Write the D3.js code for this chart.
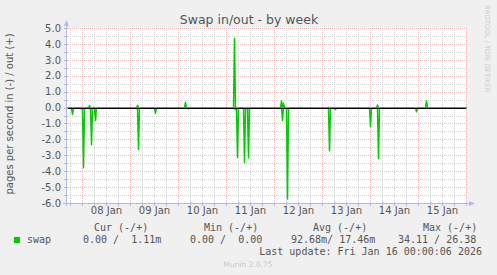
<!DOCTYPE html>
<html>
<head>
<meta charset="utf-8">
<title>Swap in/out - by week</title>
<script src="https://d3js.org/d3.v7.min.js"></script>
<style>
  body { margin: 0; background: #f0f0f0; }
  svg { display: block; }
</style>
</head>
<body>
<div id="grafico"></div>
<script>
// Values, 30-minute samples; every other sample sits on 0
const swapInTimes = ["2026-01-07 19:00", "2026-01-07 23:30", "2026-01-08 00:30", "2026-01-08 04:30",
  "2026-01-08 06:30", "2026-01-09 04:00", "2026-01-09 12:30", "2026-01-10 05:00",
  "2026-01-11 04:30", "2026-01-11 05:30", "2026-01-11 09:00", "2026-01-11 11:00",
  "2026-01-12 04:00", "2026-01-12 06:30", "2026-01-13 03:30", "2026-01-13 06:30",
  "2026-01-14 00:00", "2026-01-14 04:00", "2026-01-14 23:00"];
const swapInValues = [-0.40, -0.06, -3.75, -2.30,
  -0.78, -2.60, -0.33, -0.05,
  -0.10, -3.10, -3.44, -3.12,
  -0.78, -5.72, -2.68, -0.10,
  -1.17, -3.17, -0.23];

const swapOutTimes = ["2026-01-08 03:30", "2026-01-09 03:30", "2026-01-10 03:30", "2026-01-11 04:00",
  "2026-01-12 03:30", "2026-01-12 04:30", "2026-01-12 13:00", "2026-01-13 03:00",
  "2026-01-14 03:30", "2026-01-15 04:00"];
const swapOutValues = [0.15, 0.17, 0.36, 4.38,
  0.44, 0.30, 0.05, 0.05,
  0.19, 0.44];

const yTicks = [5, 4, 3, 2, 1, 0, -1, -2, -3, -4, -5, -6];
const dayLabels = ["08 Jan", "09 Jan", "10 Jan", "11 Jan", "12 Jan", "13 Jan", "14 Jan", "15 Jan"];
const dayNoons = ["2026-01-08 12:00", "2026-01-09 12:00", "2026-01-10 12:00", "2026-01-11 12:00",
  "2026-01-12 12:00", "2026-01-13 12:00", "2026-01-14 12:00", "2026-01-15 12:00"];
const legendHeaders = ["Cur (-/+)", "Min (-/+)", "Avg (-/+)", "Max (-/+)"];
const legendValues = ["0.00 /  1.11m", "0.00 /  0.00", "92.68m/ 17.46m", "34.11 / 26.38"];
const seriesName = "swap";
const lastUpdate = "Last update: Fri Jan 16 00:00:06 2026";

// Layout
const W = 497, H = 275;
const plot = { left: 66, right: 466, top: 28, bottom: 203 };
const parse = d3.utcParse("%Y-%m-%d %H:%M");
const tStart = parse("2026-01-07 16:00"), tEnd = parse("2026-01-16 00:00");

const sans = "'DejaVu Sans', sans-serif";
const mono = "'DejaVu Sans Mono', monospace";
const axisCol = "#b4b8ec";
const green = "#00cc00";

const svg = d3.select("#grafico").append("svg")
  .attr("width", W).attr("height", H);

svg.append("rect").attr("width", W).attr("height", H).attr("fill", "#f0f0f0");

const x = d3.scaleUtc().domain([tStart, tEnd]).range([plot.left, plot.right]);
const y = d3.scaleLinear().domain([-6, 5]).range([plot.bottom, plot.top]);

// Canvas
svg.append("rect")
  .attr("x", plot.left).attr("y", plot.top)
  .attr("width", plot.right - plot.left).attr("height", plot.bottom - plot.top)
  .attr("fill", "#ffffff");

// Grid
const grid = svg.append("g").attr("shape-rendering", "crispEdges");
const halfSteps = d3.range(-6, 5.01, 0.5);
const minorTimes = d3.utcHour.every(6).range(tStart, d3.utcMinute.offset(tEnd, 1));
const dayTimes = d3.utcDay.range(d3.utcDay.ceil(tStart), d3.utcMinute.offset(tEnd, 1));
const minorCol = "#d4d4d4", majorCol = "#f4b8b8";

grid.selectAll(".hmin").data(halfSteps.filter(v => v % 1 !== 0)).enter().append("line")
  .attr("x1", plot.left).attr("x2", plot.right)
  .attr("y1", d => Math.round(y(d)) + 0.5).attr("y2", d => Math.round(y(d)) + 0.5)
  .attr("stroke", minorCol).attr("stroke-dasharray", "1,1");
grid.selectAll(".vmin").data(minorTimes.filter(t => t.getUTCHours() !== 0)).enter().append("line")
  .attr("x1", d => Math.round(x(d)) + 0.5).attr("x2", d => Math.round(x(d)) + 0.5)
  .attr("y1", plot.top).attr("y2", plot.bottom)
  .attr("stroke", minorCol).attr("stroke-dasharray", "1,1");
grid.selectAll(".hmaj").data(yTicks).enter().append("line")
  .attr("x1", plot.left).attr("x2", plot.right)
  .attr("y1", d => Math.round(y(d)) + 0.5).attr("y2", d => Math.round(y(d)) + 0.5)
  .attr("stroke", majorCol).attr("stroke-dasharray", "1,1");
grid.selectAll(".vmaj").data(dayTimes).enter().append("line")
  .attr("x1", d => Math.round(x(d)) + 0.5).attr("x2", d => Math.round(x(d)) + 0.5)
  .attr("y1", plot.top).attr("y2", plot.bottom)
  .attr("stroke", majorCol).attr("stroke-dasharray", "1,1");

// Series on the 30-minute sample grid
const samples = d3.utcMinute.every(30).range(tStart, d3.utcMinute.offset(tEnd, 1));
function series(times, values) {
  const m = new Map(times.map((t, i) => [+parse(t), values[i]]));
  return samples.map(t => ({ t, v: m.has(+t) ? m.get(+t) : 0 }));
}
const line = d3.line().x(d => x(d.t) + 0.5).y(d => y(d.v) + 0.5);

[series(swapInTimes, swapInValues), series(swapOutTimes, swapOutValues)].forEach(s => {
  svg.append("path").datum(s)
    .attr("d", line)
    .attr("fill", "none")
    .attr("stroke", green)
    .attr("stroke-width", 1.5)
    .attr("stroke-linejoin", "round");
});

// Zero rule
svg.append("line")
  .attr("x1", plot.left).attr("x2", plot.right)
  .attr("y1", Math.round(y(0)) + 0.5).attr("y2", Math.round(y(0)) + 0.5)
  .attr("stroke", "#000").attr("stroke-width", 1)
  .attr("shape-rendering", "crispEdges");

// Axes lines, ticks and arrows
const ax = svg.append("g").attr("shape-rendering", "crispEdges");
ax.append("line").attr("x1", plot.left + 0.5).attr("x2", plot.left + 0.5)
  .attr("y1", plot.bottom + 3).attr("y2", plot.top - 4).attr("stroke", axisCol);
ax.append("line").attr("x1", plot.left - 3).attr("x2", plot.right + 4)
  .attr("y1", plot.bottom + 0.5).attr("y2", plot.bottom + 0.5).attr("stroke", axisCol);
ax.selectAll(".yt").data(halfSteps).enter().append("line")
  .attr("x1", plot.left - 2).attr("x2", plot.left + 2)
  .attr("y1", d => Math.round(y(d)) + 0.5).attr("y2", d => Math.round(y(d)) + 0.5)
  .attr("stroke", axisCol);
ax.selectAll(".xt").data(minorTimes).enter().append("line")
  .attr("x1", d => Math.round(x(d)) + 0.5).attr("x2", d => Math.round(x(d)) + 0.5)
  .attr("y1", plot.bottom - 1).attr("y2", plot.bottom + 3)
  .attr("stroke", axisCol);
svg.append("path")
  .attr("d", `M${plot.left - 2},${plot.top - 2} L${plot.left + 0.5},${plot.top - 8} L${plot.left + 3},${plot.top - 2} Z`)
  .attr("fill", axisCol);
svg.append("path")
  .attr("d", `M${plot.right + 3},${plot.bottom - 2} L${plot.right + 9},${plot.bottom + 0.5} L${plot.right + 3},${plot.bottom + 3} Z`)
  .attr("fill", axisCol);

// Tick labels via d3 axes
const yAxis = d3.axisLeft(y).tickValues(yTicks).tickFormat(d => d.toFixed(1)).tickSize(0).tickPadding(5);
const gy = svg.append("g").attr("transform", `translate(${plot.left},0)`).call(yAxis);
gy.select(".domain").remove();
gy.selectAll("text").attr("font-family", sans).attr("font-size", 10).attr("fill", "#555");

const xAxis = d3.axisBottom(x).tickValues(dayNoons.map(parse))
  .tickFormat((d, i) => dayLabels[i]).tickSize(0).tickPadding(4);
const gx = svg.append("g").attr("transform", `translate(0,${plot.bottom})`).call(xAxis);
gx.select(".domain").remove();
gx.selectAll("text").attr("font-family", sans).attr("font-size", 10).attr("fill", "#555");

// Titles
svg.append("text").attr("x", 249).attr("y", 24).attr("text-anchor", "middle")
  .attr("font-family", sans).attr("font-size", 12.5).attr("fill", "#555")
  .text("Swap in/out - by week");
svg.append("text").attr("transform", "translate(13,114) rotate(-90)").attr("text-anchor", "middle")
  .attr("font-family", sans).attr("font-size", 10).attr("fill", "#555")
  .text("pages per second in (-) / out (+)");
svg.append("text").attr("transform", "translate(485,5) rotate(90)")
  .attr("font-family", sans).attr("font-size", 6.8).attr("fill", "#cccccc")
  .text("RRDTOOL / TOBI OETIKER");

// Legend
const headerX = [94, 204, 313, 423];
const valueX = [83, 190, 291, 398];
const leg = svg.append("g").attr("font-family", mono).attr("font-size", 10).attr("fill", "#555");
leg.selectAll(".hd").data(legendHeaders).enter().append("text")
  .attr("xml:space", "preserve")
  .attr("x", (d, i) => headerX[i]).attr("y", 231).text(d => d);
svg.append("rect").attr("x", 14).attr("y", 237).attr("width", 6).attr("height", 6).attr("fill", green);
leg.append("text").attr("x", 27).attr("y", 243).text(seriesName);
leg.selectAll(".vl").data(legendValues).enter().append("text")
  .attr("xml:space", "preserve")
  .attr("x", (d, i) => valueX[i]).attr("y", 243).text(d => d);
leg.append("text").attr("x", 482).attr("y", 255).attr("text-anchor", "end").text(lastUpdate);

svg.append("text").attr("x", 248).attr("y", 267).attr("text-anchor", "middle")
  .attr("font-family", sans).attr("font-size", 7.5).attr("fill", "#c8c8c8")
  .text("Munin 2.0.75");
</script>
</body>
</html>
